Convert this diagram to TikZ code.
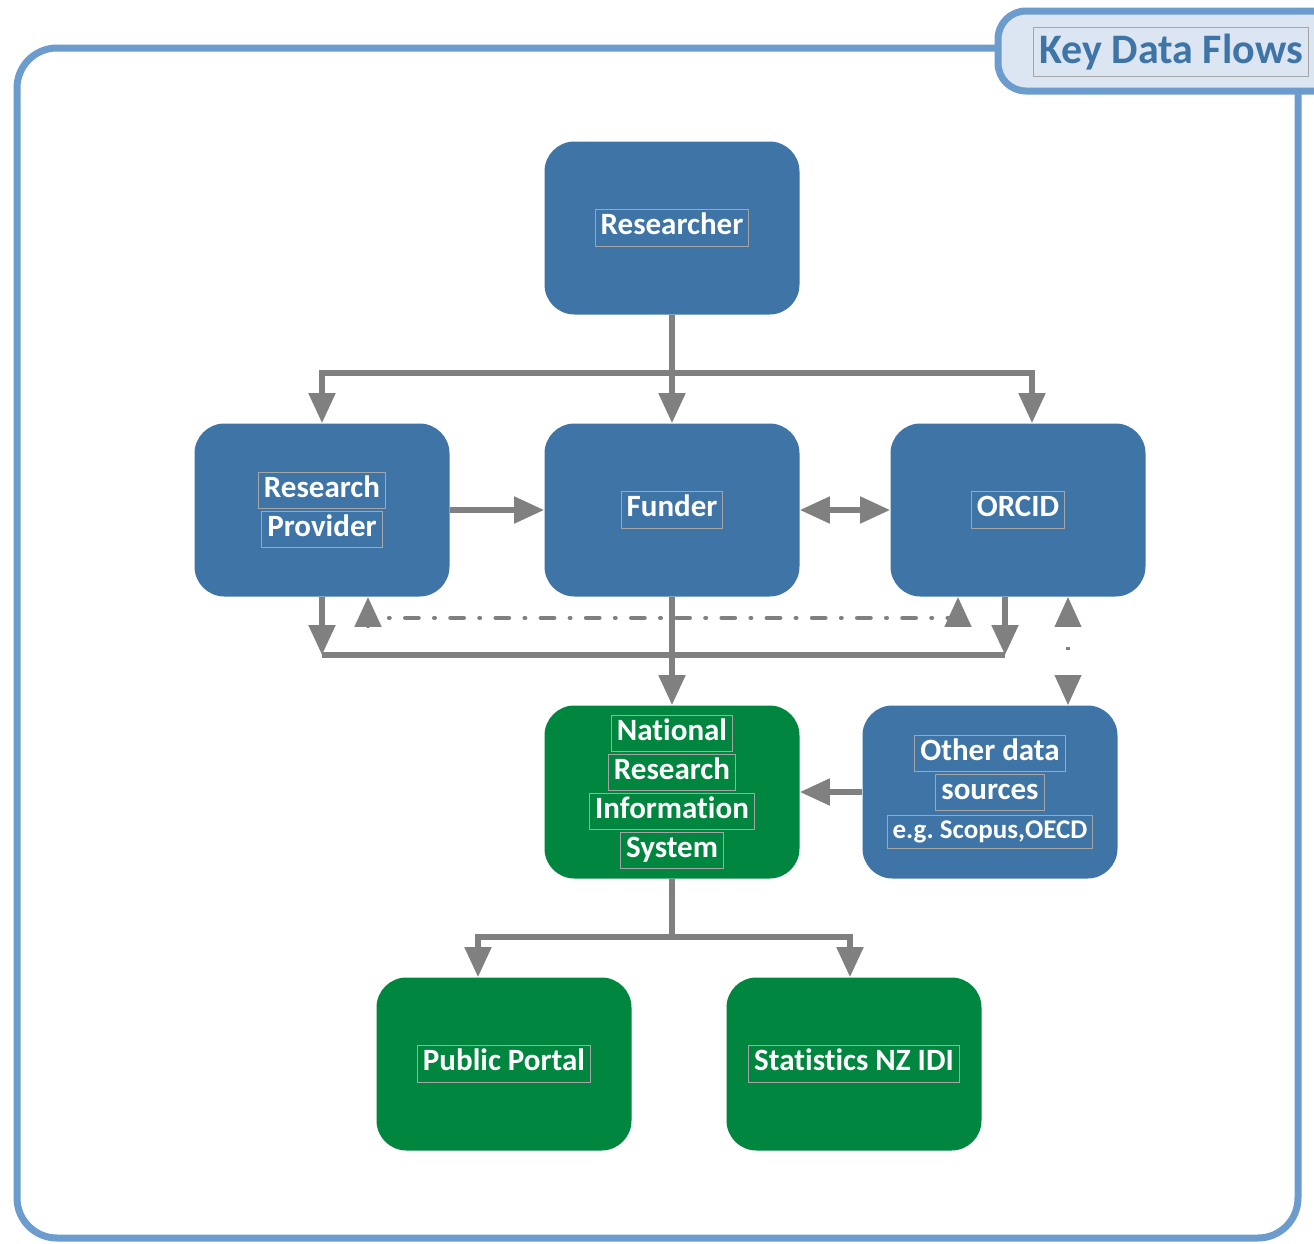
\documentclass[tikz,border=0pt]{standalone}
\usepackage{fontspec}
\setmainfont{Carlito}[Ligatures=NoCommon]
\usetikzlibrary{positioning,arrows.meta,calc}
\definecolor{nodeblue}{RGB}{62,116,166}
\definecolor{nodegreen}{RGB}{0,134,62}
\definecolor{frameblue}{RGB}{108,155,205}
\definecolor{titlefill}{RGB}{220,230,242}
\definecolor{flowgray}{RGB}{128,128,128}
\definecolor{labeledge}{RGB}{165,165,165}
\setlength{\fboxsep}{2.5pt}
\setlength{\fboxrule}{0.5pt}
\frenchspacing
\newcommand{\lbl}[1]{{\color{labeledge}\fbox{\color{white}\rule[-0.18em]{0pt}{0.81em}\smash{#1}}}}
\tikzset{
  flowarrow/.style={->, line width=2.6pt, flowgray},
  flowline/.style={line width=2.6pt, flowgray},
  backarrow/.style={<->, line width=2.4pt, flowgray, line cap=round, dash pattern=on 6.5pt off 8pt on 0.1pt off 8pt},
  faintarrow/.style={<->, line width=2pt, flowgray, dash pattern=on 1.5pt off 100pt, dash phase=91pt},
  bluebox/.style={rounded corners=15pt, fill=nodeblue, minimum width=127.5pt, minimum height=86.5pt, align=center, inner sep=0pt},
  greenbox/.style={bluebox, fill=nodegreen},
  mainframe/.style={draw=frameblue, line width=3.5pt, rounded corners=20pt},
  titleframe/.style={draw=frameblue, fill=titlefill, line width=3.5pt, rounded corners=14pt},
  titlebox/.style={draw=labeledge, line width=0.6pt, text=nodeblue, font=\fontsize{21}{25}\selectfont\bfseries, inner xsep=3pt, minimum height=24.5pt}
}
\begin{document}
\begin{tikzpicture}[>={Triangle[length=15pt,width=13pt]}, x=0.5pt, y=-0.5pt,
    every node/.style={font=\fontsize{15.5}{19.5}\selectfont\bfseries}]
  \useasboundingbox (0,0) rectangle (1314,1244);
  \draw[mainframe] (17,48) rectangle (1298,1238);
  \draw[titleframe] (998,11) rectangle (1350,91);
  \node[titlebox] (title) at (1171,52) {Key Data Flows};

  % boxes
  \node[bluebox] (res) at (672,228) {\lbl{Researcher}};
  \node[bluebox] (rp) at (322,510) {\lbl{Research}\\\lbl{Provider}};
  \node[bluebox] (fund) at (672,510) {\lbl{Funder}};
  \node[bluebox] (orcid) at (1018,510) {\lbl{ORCID}};
  \node[greenbox] (nris) at (672,792) {\lbl{National}\\\lbl{Research}\\\lbl{Information}\\\lbl{System}};
  \node[bluebox] (other) at (990,792) {\lbl{Other data}\\\lbl{sources}\\{\fontsize{13.5}{17}\selectfont\lbl{e.g. Scopus,OECD}}};
  \node[greenbox] (portal) at (504,1064) {\lbl{Public Portal}};
  \node[greenbox] (stats) at (854,1064) {\lbl{Statistics NZ IDI}};

  % researcher fan-out
  \coordinate (split) at (672,373);
  \draw[flowarrow] (res) -- (fund);
  \draw[flowarrow] (split) -| (rp.north);
  \draw[flowarrow] (split) -| ([xshift=7pt]orcid.north);

  % middle row
  \draw[flowarrow] (rp) -- (fund);
  \draw[flowarrow, <->] (fund) -- (orcid);

  % into NRIS
  \coordinate (rpdrop) at (322,655);
  \coordinate (orcdrop) at (1005,655);
  \draw[flowarrow] (rp) -- (rpdrop);
  \draw[flowarrow] ([xshift=-6.5pt]orcid.south) -- (orcdrop);
  \draw[flowline] (rpdrop) -- (orcdrop);
  \draw[flowarrow] (fund) -- (nris);
  \draw[backarrow] ([xshift=23pt]rp.south) -- ++(0,21) -| ([xshift=-30pt]orcid.south);
  \draw[faintarrow] ([xshift=25pt]orcid.south) -- ([xshift=39pt]other.north);
  \draw[flowarrow] (other) -- (nris);

  % outputs
  \coordinate (nsplit) at (672,937);
  \draw[flowline] (nris) -- (nsplit);
  \draw[flowarrow] (nsplit) -| ([xshift=-13pt]portal.north);
  \draw[flowarrow] (nsplit) -| ([xshift=-2pt]stats.north);
\end{tikzpicture}
\end{document}
